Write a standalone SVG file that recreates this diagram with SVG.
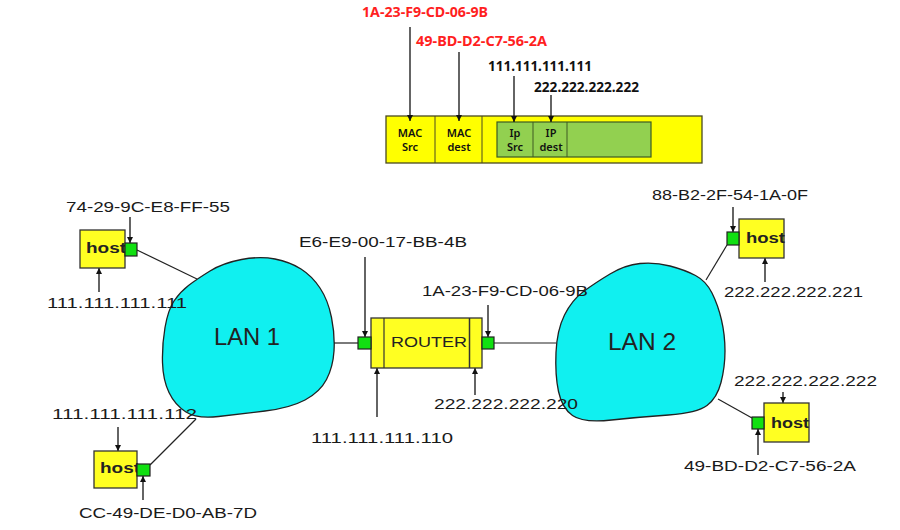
<svg xmlns="http://www.w3.org/2000/svg" width="900" height="530" viewBox="0 0 900 530">
<defs>
  <marker id="ah" viewBox="0 0 8 8" refX="8" refY="4" markerWidth="7" markerHeight="6" markerUnits="userSpaceOnUse" orient="auto">
    <path d="M0,0 L8,4 L0,8 z" fill="#111"/>
  </marker>
</defs>
<style>
  .lbl { font-family: "Liberation Sans", Arial, sans-serif; font-size: 15.5px; fill: #1a1a1a; }
  .top { font-family: "Noto Sans", "Noto Sans CJK KR", sans-serif; font-size: 13.5px; font-weight: bold; }
  .red { fill: #ff1f1f; }
  .blk { fill: #111; }
  .fld { font-family: "Noto Sans", "Noto Sans CJK KR", sans-serif; font-size: 11px; font-weight: 600; fill: #111; text-anchor: middle; }
  .arrow { stroke: #111; stroke-width: 1.3; fill: none; marker-end: url(#ah); }
  .wire { stroke: #222; stroke-width: 1.2; fill: none; }
  .hostbox { fill: #ffff22; stroke: #333; stroke-width: 1.3; }
  .port { fill: #11e011; stroke: #222; stroke-width: 1.2; }
  .hosttxt { font-family: "Liberation Sans", Arial, sans-serif; font-size: 14px; font-weight: bold; fill: #222; }
  .lan { fill: #10f0f0; stroke: #222; stroke-width: 1.3; }
  .lantxt { font-family: "Liberation Sans", Arial, sans-serif; font-size: 24px; fill: #222; }
</style>
<rect width="900" height="530" fill="#ffffff"/>

<!-- Frame -->
<g id="frame">
  <rect x="386" y="116" width="316" height="47" fill="#ffff00" stroke="#4a4a20" stroke-width="1.3"/>
  <line x1="435" y1="116" x2="435" y2="163" stroke="#4a4a20" stroke-width="1"/>
  <line x1="482" y1="116" x2="482" y2="163" stroke="#4a4a20" stroke-width="1"/>
  <rect x="497" y="122" width="154" height="35" fill="#92d050" stroke="#3e5a22" stroke-width="1.2"/>
  <line x1="533" y1="122" x2="533" y2="157" stroke="#3e5a22" stroke-width="1"/>
  <line x1="567" y1="122" x2="567" y2="157" stroke="#3e5a22" stroke-width="1"/>
  <text class="fld" x="410" y="137">MAC</text>
  <text class="fld" x="410" y="151">Src</text>
  <text class="fld" x="459" y="137">MAC</text>
  <text class="fld" x="459" y="151">dest</text>
  <text class="fld" x="515" y="137">Ip</text>
  <text class="fld" x="515" y="151">Src</text>
  <text class="fld" x="551" y="137">IP</text>
  <text class="fld" x="551" y="151">dest</text>
  <text class="top red" x="362" y="17" textLength="126" lengthAdjust="spacingAndGlyphs">1A-23-F9-CD-06-9B</text>
  <text class="top red" x="416" y="46" textLength="131" lengthAdjust="spacingAndGlyphs">49-BD-D2-C7-56-2A</text>
  <text class="top blk" x="488" y="71" textLength="104" lengthAdjust="spacingAndGlyphs">111.111.111.111</text>
  <text class="top blk" x="534" y="92" textLength="105" lengthAdjust="spacingAndGlyphs">222.222.222.222</text>
</g>

<!-- LANs -->
<g id="lan1">
  <path class="lan" d="M210,271 Q223,263 241.5,259.5 Q260,256 275,259 Q290,262 301,269 Q312,276 320,288 Q328,300 331.5,317.5 Q335,335 334,351 Q333,367 326.5,379.5 Q320,392 305,400 Q290,408 265,411 Q240,414 218.5,416.5 Q197,419 186,412 Q175,405 169,392.5 Q163,380 162.5,362.5 Q162,345 165,327.5 Q168,310 174,301 Q180,292 188.5,285.5 Q197,279 210,271 Z"/>
  <text class="lantxt" x="214" y="345" textLength="66" lengthAdjust="spacingAndGlyphs">LAN 1</text>
</g>
<g id="lan2">
  <path class="lan" d="M712,293 Q718,305 721.5,320 Q725,335 725,351 Q725,367 721,382.5 Q717,398 707,405.5 Q697,413 668.5,415 Q640,417 611.5,420 Q583,423 572.5,415.5 Q562,408 558.5,391.5 Q555,375 556,352.5 Q557,330 564.5,315 Q572,300 583.5,291.5 Q595,283 610,274 Q625,265 640,263.5 Q655,262 670,266 Q685,270 695.5,275.5 Q706,281 712,293 Z"/>
  <text class="lantxt" x="608" y="350" textLength="68" lengthAdjust="spacingAndGlyphs">LAN 2</text>
</g>

<!-- Connectors -->
<g id="connectors">
  <line class="wire" x1="137" y1="250" x2="197" y2="279"/>
  <line class="wire" x1="150" y1="465" x2="196" y2="419"/>
  <line class="wire" x1="334" y1="343" x2="358" y2="343"/>
  <line class="wire" x1="494" y1="343" x2="556" y2="343"/>
  <line class="wire" x1="727" y1="245" x2="706" y2="280"/>
  <line class="wire" x1="752" y1="418" x2="718" y2="399"/>

  <line class="arrow" x1="410" y1="27" x2="410" y2="121"/>
  <line class="arrow" x1="459" y1="52" x2="459" y2="121"/>
  <line class="arrow" x1="514" y1="76" x2="514" y2="122"/>
  <line class="arrow" x1="551" y1="95" x2="551" y2="122"/>

  <line class="arrow" x1="130" y1="217" x2="130" y2="243"/>
  <line class="arrow" x1="99" y1="292" x2="99" y2="268"/>
  <line class="arrow" x1="365" y1="257" x2="365" y2="337"/>
  <line class="arrow" x1="488" y1="305" x2="488" y2="337"/>
  <line class="arrow" x1="377" y1="417" x2="377" y2="368"/>
  <line class="arrow" x1="475" y1="395" x2="475" y2="368"/>
  <line class="arrow" x1="733" y1="207" x2="733" y2="232"/>
  <line class="arrow" x1="765" y1="282" x2="765" y2="258"/>
  <line class="arrow" x1="118" y1="427" x2="118" y2="451"/>
  <line class="arrow" x1="143" y1="500" x2="143" y2="476"/>
  <line class="arrow" x1="783" y1="392" x2="783" y2="403"/>
  <line class="arrow" x1="758" y1="455" x2="758" y2="429"/>
</g>

<!-- Router -->
<g id="router">
  <rect x="371" y="318" width="111" height="50" fill="#ffff22" stroke="#333" stroke-width="1.3"/>
  <line x1="384" y1="318" x2="384" y2="368" stroke="#333" stroke-width="1.2"/>
  <line x1="469.5" y1="318" x2="469.5" y2="368" stroke="#333" stroke-width="1.5"/>
  <text class="lbl" x="391" y="347" textLength="76" lengthAdjust="spacingAndGlyphs" style="fill:#222">ROUTER</text>
  <rect class="port" x="358" y="337" width="13" height="12"/>
  <rect class="port" x="482" y="337" width="12" height="12"/>
</g>

<!-- Hosts -->
<g id="host1">
  <rect class="hostbox" x="80" y="230" width="45" height="38"/>
  <text class="hosttxt" x="86" y="253" textLength="40" lengthAdjust="spacingAndGlyphs">host</text>
  <rect class="port" x="125" y="243" width="12" height="13"/>
</g>
<g id="host2">
  <rect class="hostbox" x="94" y="451" width="43" height="37"/>
  <text class="hosttxt" x="100" y="473" textLength="40" lengthAdjust="spacingAndGlyphs">host</text>
  <rect class="port" x="137" y="464" width="13" height="12"/>
</g>
<g id="host3">
  <rect class="hostbox" x="739" y="219" width="45" height="39"/>
  <text class="hosttxt" x="746" y="243" textLength="39" lengthAdjust="spacingAndGlyphs">host</text>
  <rect class="port" x="727" y="232" width="12" height="13"/>
</g>
<g id="host4">
  <rect class="hostbox" x="764" y="403" width="45" height="39"/>
  <text class="hosttxt" x="771" y="428" textLength="38" lengthAdjust="spacingAndGlyphs">host</text>
  <rect class="port" x="752" y="417" width="12" height="12"/>
</g>

<!-- Labels -->
<g id="labels">
  <text class="lbl" x="66" y="212" textLength="164" lengthAdjust="spacingAndGlyphs">74-29-9C-E8-FF-55</text>
  <text class="lbl" x="47" y="308" textLength="140" lengthAdjust="spacingAndGlyphs">111.111.111.111</text>
  <text class="lbl" x="299" y="247" textLength="168" lengthAdjust="spacingAndGlyphs">E6-E9-00-17-BB-4B</text>
  <text class="lbl" x="422" y="296" textLength="166" lengthAdjust="spacingAndGlyphs">1A-23-F9-CD-06-9B</text>
  <text class="lbl" x="311" y="443" textLength="142" lengthAdjust="spacingAndGlyphs">111.111.111.110</text>
  <text class="lbl" x="434" y="409" textLength="144" lengthAdjust="spacingAndGlyphs">222.222.222.220</text>
  <text class="lbl" x="652" y="200" textLength="156" lengthAdjust="spacingAndGlyphs">88-B2-2F-54-1A-0F</text>
  <text class="lbl" x="724" y="297" textLength="139" lengthAdjust="spacingAndGlyphs">222.222.222.221</text>
  <text class="lbl" x="52" y="419" textLength="145" lengthAdjust="spacingAndGlyphs">111.111.111.112</text>
  <text class="lbl" x="79" y="518" textLength="178" lengthAdjust="spacingAndGlyphs">CC-49-DE-D0-AB-7D</text>
  <text class="lbl" x="734" y="386" textLength="143" lengthAdjust="spacingAndGlyphs">222.222.222.222</text>
  <text class="lbl" x="684" y="471" textLength="172" lengthAdjust="spacingAndGlyphs">49-BD-D2-C7-56-2A</text>
</g>
</svg>
